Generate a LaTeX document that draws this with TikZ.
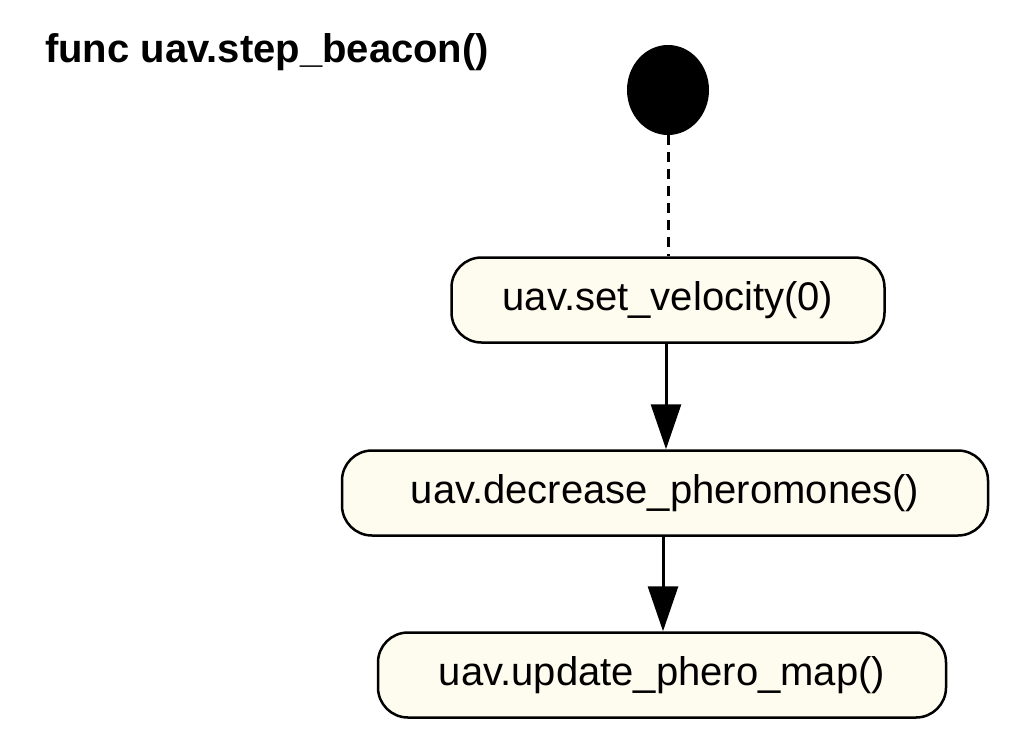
\documentclass[tikz,border=0pt]{standalone}
\usepackage{fontspec}
\setmainfont{Liberation Sans}
\usetikzlibrary{shapes.geometric,arrows.meta}
\definecolor{cream}{HTML}{FEFBEF}
\begin{document}
\begin{tikzpicture}[x=1pt,y=-1pt,
  act/.style={draw,line width=2.5pt,fill=cream,rounded corners=30pt,minimum height=85pt,inner xsep=12pt,font=\fontsize{40}{48}\selectfont},
  flow/.style={line width=3pt,-{Triangle[width=30pt,length=45pt]}}]
\useasboundingbox (0,0) rectangle (1022,755);
\node[anchor=base west,font=\fontsize{40}{48}\selectfont\bfseries,inner sep=0] (t) at (45,62) {func uav.step\_beacon()};
\node[ellipse,fill=black,minimum width=82pt,minimum height=90pt,inner sep=0] (s) at (668,90) {};
\node[act,minimum width=433pt] (a) at (668,300) {uav.set\_velocity(0)};
\node[act,minimum width=646pt] (b) at (665,493) {uav.decrease\_pheromones()};
\node[act,minimum width=568pt] (c) at (662,675) {uav.update\_phero\_map()};
\draw[line width=3pt,dash pattern=on 10pt off 7pt] (s) -- (a.north -| s);
\draw[flow] (a.south -| 666,0) -- (b.north -| 666,0);
\draw[flow] (b.south -| 663,0) -- (c.north -| 663,0);
\end{tikzpicture}
\end{document}
